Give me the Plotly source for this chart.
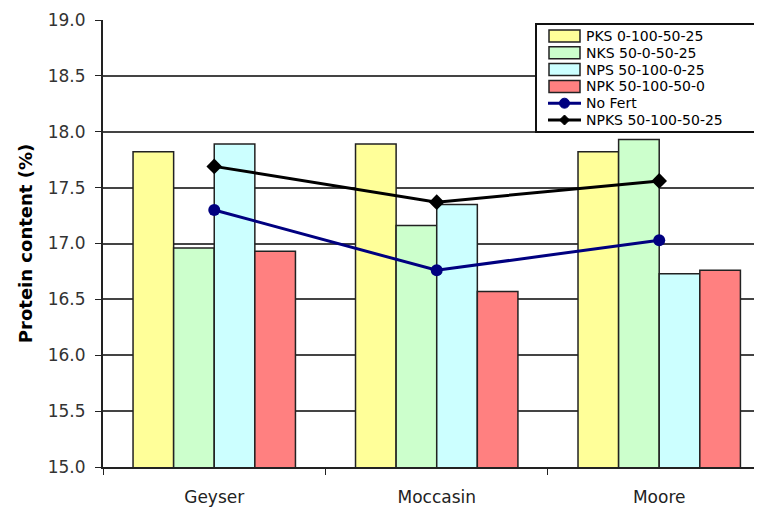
import plotly.graph_objects as go

categories = ["Geyser", "Moccasin", "Moore"]
pks = [17.82, 17.89, 17.82]
nks = [16.96, 17.16, 17.93]
nps = [17.89, 17.35, 16.73]
npk = [16.93, 16.57, 16.76]
no_fert = [17.30, 16.76, 17.03]
npks = [17.69, 17.37, 17.56]
y_ticks = [15.0, 15.5, 16.0, 16.5, 17.0, 17.5, 18.0, 18.5, 19.0]

bar_names = ["PKS 0-100-50-25", "NKS 50-0-50-25", "NPS 50-100-0-25", "NPK 50-100-50-0"]
bar_values = [pks, nks, nps, npk]
bar_colors = ["#FFFF99", "#CCFFCC", "#CCFFFF", "#FF8080"]
line_names = ["No Fert", "NPKS 50-100-50-25"]
line_values = [no_fert, npks]
line_colors = ["#000080", "#000000"]
line_symbols = ["circle", "diamond"]

# layout geometry (figure pixels)
L, T, R, B = 95, 12, 8, 56
FW, FH = 762, 515
W = FW - L - R
H = FH - T - B
OFF = 8  # page body margin


def px(xs):
    return (xs - OFF - L) / W


def py(ys):
    return 1 - (ys - OFF - T) / H


fig = go.Figure()
for name, vals, col in zip(bar_names, bar_values, bar_colors):
    fig.add_trace(go.Bar(x=categories, y=vals, name=name,
                         marker=dict(color=col, line=dict(color="#222222", width=1.5))))
for name, vals, col, sym in zip(line_names, line_values, line_colors, line_symbols):
    fig.add_trace(go.Scatter(x=categories, y=vals, name=name, mode="lines+markers",
                             line=dict(color=col, width=3),
                             marker=dict(symbol=sym, size=12, color=col)))

# custom legend box
shapes = [dict(type="rect", xref="paper", yref="paper", layer="above",
               x0=px(536), x1=px(757), y0=py(132), y1=py(24),
               fillcolor="white", line=dict(color="#111111", width=2))]
annotations = []
legend_names = bar_names + line_names
for i, name in enumerate(legend_names):
    yc = 36 + i * 16.8
    if i < 4:
        shapes.append(dict(type="rect", xref="paper", yref="paper", layer="above",
                           x0=px(549), x1=px(580), y0=py(yc + 6), y1=py(yc - 6),
                           fillcolor=bar_colors[i], line=dict(color="#222222", width=1.5)))
    else:
        col = line_colors[i - 4]
        shapes.append(dict(type="line", xref="paper", yref="paper", layer="above",
                           x0=px(548), x1=px(581), y0=py(yc), y1=py(yc),
                           line=dict(color=col, width=3)))
        if line_symbols[i - 4] == "circle":
            shapes.append(dict(type="circle", xref="paper", yref="paper", layer="above",
                               xsizemode="pixel", ysizemode="pixel",
                               xanchor=px(564.5), yanchor=py(yc),
                               x0=-5, x1=5, y0=-5, y1=5,
                               fillcolor=col, line=dict(color=col, width=1)))
        else:
            shapes.append(dict(type="path", xref="paper", yref="paper", layer="above",
                               xsizemode="pixel", ysizemode="pixel",
                               xanchor=px(564.5), yanchor=py(yc),
                               path="M -5 0 L 0 5 L 5 0 L 0 -5 Z",
                               fillcolor=col, line=dict(color=col, width=1)))
    annotations.append(dict(xref="paper", yref="paper", x=px(584), y=py(yc),
                            xanchor="left", yanchor="middle", showarrow=False,
                            text=name, font=dict(family="DejaVu Sans", size=14, color="#000000")))

fig.update_layout(
    width=FW, height=FH,
    margin=dict(l=L, r=R, t=T, b=B, autoexpand=False),
    paper_bgcolor="white", plot_bgcolor="white",
    barmode="group", bargap=0.27, bargroupgap=0,
    font=dict(family="DejaVu Sans", color="#222222"),
    showlegend=False,
    shapes=shapes, annotations=annotations,
    xaxis=dict(showline=True, linecolor="#222222", linewidth=2, automargin=False,
               range=[-0.5, 2.462],
               tickson="boundaries", ticks="outside", ticklen=6, tickcolor="#222222",
               ticklabelstandoff=14,
               tickfont=dict(size=17, color="#222222"), showgrid=False),
    yaxis=dict(range=[15.0, 19.0], tickvals=y_ticks, automargin=False,
               ticktext=[f"{v:.1f}" for v in y_ticks],
               showline=True, linecolor="#222222", linewidth=2,
               ticks="outside", ticklen=6, tickcolor="#222222",
               ticklabelstandoff=6,
               tickfont=dict(size=17, color="#333333"),
               showgrid=True, gridcolor="#444444", gridwidth=1.5,
               title=dict(text="<b>Protein content (%)</b>",
                          font=dict(size=18, color="#000000"), standoff=10)),
)

fig.write_html("out.html")
